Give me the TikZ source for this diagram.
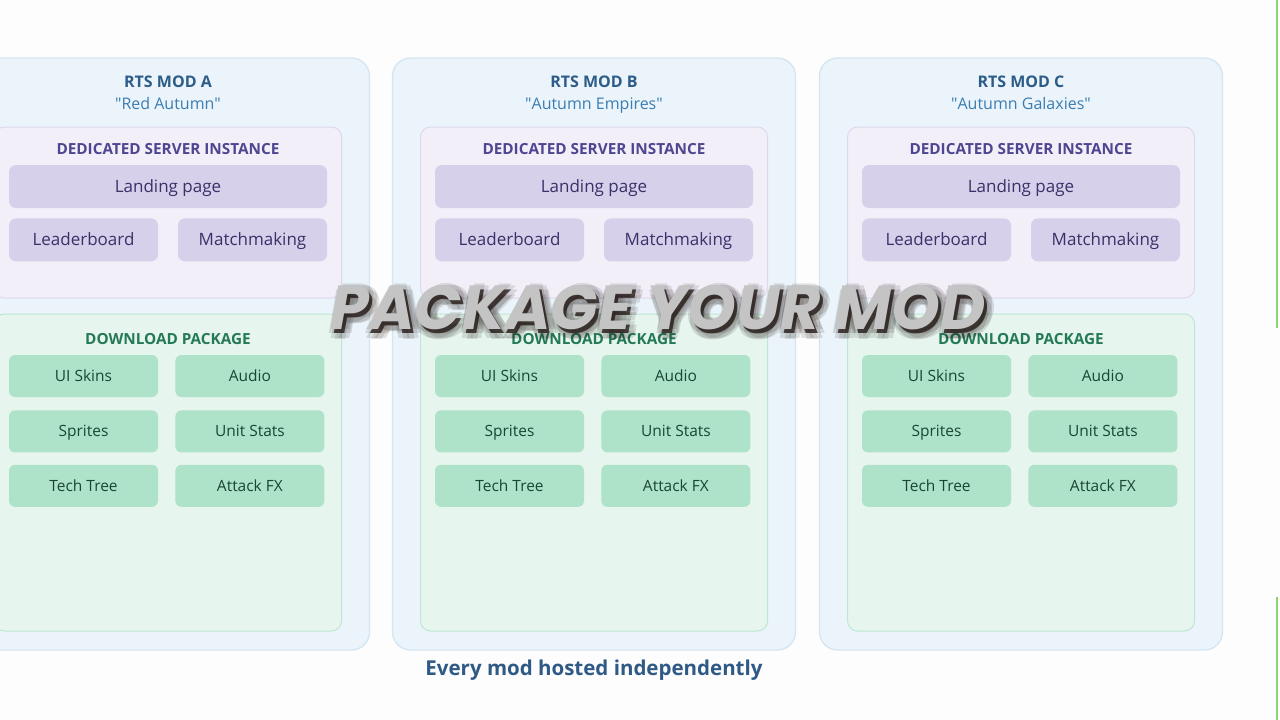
\documentclass[tikz,border=0pt]{standalone}
\usepackage{fontspec}
\setmainfont{Open Sans}
\newfontfamily\bannerfont{Poppins}
\usetikzlibrary{positioning}

\definecolor{pagebg}{HTML}{FDFDFD}
\definecolor{modfill}{HTML}{EAF4FA}
\definecolor{modline}{HTML}{D3E6F2}
\definecolor{modtitle}{HTML}{2D5C88}
\definecolor{modsub}{HTML}{3B7DB2}
\definecolor{srvfill}{HTML}{F2EFF9}
\definecolor{srvline}{HTML}{DDD8EE}
\definecolor{srvtext}{HTML}{4E4690}
\definecolor{srvbox}{HTML}{D6D0EA}
\definecolor{srvboxtext}{HTML}{3A3168}
\definecolor{dlfill}{HTML}{E6F5EE}
\definecolor{dlline}{HTML}{BFE6D3}
\definecolor{dltext}{HTML}{257A56}
\definecolor{dlbox}{HTML}{AEE2C9}
\definecolor{dlboxtext}{HTML}{1A4633}
\definecolor{captext}{HTML}{2F5A86}
\definecolor{bannergray}{HTML}{C4C4C4}
\definecolor{bannershade}{HTML}{1E1410}
\definecolor{edgegreen}{HTML}{8CD46C}

\begin{document}
\begin{tikzpicture}[x=1pt,y=-1pt,font=\fontsize{15}{18}\selectfont,inner sep=0pt]

	\tikzset{mod box/.style={draw=modline, fill=modfill, line width=1.3pt,
			rounded corners=18pt, minimum width=403pt, minimum height=592pt}}
	\tikzset{mod title/.style={text=modtitle, font=\fontsize{16}{19}\selectfont\bfseries}}
	\tikzset{mod sub/.style={text=modsub, font=\fontsize{16}{19}\selectfont}}
	\tikzset{srv panel/.style={draw=srvline, fill=srvfill, line width=1pt,
			rounded corners=10pt, minimum width=347pt, minimum height=171pt}}
	\tikzset{srv head/.style={text=srvtext, font=\fontsize{15.3}{18}\selectfont\bfseries}}
	\tikzset{srv item/.style={fill=srvbox, text=srvboxtext, rounded corners=7pt,
			minimum width=149pt, minimum height=43pt, text height=12pt, text depth=0pt,
			font=\fontsize{17}{20}\selectfont}}
	\tikzset{dl panel/.style={draw=dlline, fill=dlfill, line width=1pt,
			rounded corners=10pt, minimum width=347pt, minimum height=317pt}}
	\tikzset{dl head/.style={text=dltext, font=\fontsize{15.3}{18}\selectfont\bfseries}}
	\tikzset{dl item/.style={fill=dlbox, text=dlboxtext, rounded corners=6pt,
			minimum width=149pt, minimum height=42pt, text height=11pt, text depth=0pt,
			font=\fontsize{15.5}{18}\selectfont}}
	\tikzset{banner/.style={font=\fontsize{62}{70}\bannerfont\bfseries\itshape}}

	\useasboundingbox (0,0) rectangle (1280,720);
	\clip (0,0) rectangle (1280,720);
	\fill[pagebg] (0,0) rectangle (1280,720);

	% one column per mod
	\foreach \c/\x/\name in {A/168/Red Autumn, B/594/Autumn Empires, C/1021/Autumn Galaxies}{
		\node[mod box] (M\c) at (\x,354) {};
		\node[mod title] (T\c) at (\x,82) {RTS MOD \c};
		\node[mod sub, below=9pt of T\c] (S\c) {\textquotedbl\name\textquotedbl};

		\node[srv panel] (Srv\c) at (\x,212.5) {};
		\node[srv head] (H\c) at (\x,149) {DEDICATED SERVER INSTANCE};
		\node[srv item, minimum width=318pt] (Land\c) at (\x,186.5) {Landing page};
		\node[srv item, anchor=north west] (Lead\c) at ([yshift=-10pt]Land\c.south west) {Leaderboard};
		\node[srv item, anchor=north east] (Match\c) at ([yshift=-10pt]Land\c.south east) {Matchmaking};

		\node[dl panel] (Dl\c) at (\x,472.5) {};
		\node[dl head] (DH\c) at (\x,339) {DOWNLOAD PACKAGE};
		\node[dl item] (Ui\c) at (\x-84.5,376) {UI Skins};
		\node[dl item, right=17pt of Ui\c] (Au\c) {Audio};
		\node[dl item, below=13pt of Ui\c] (Sp\c) {Sprites};
		\node[dl item, below=13pt of Au\c] (Us\c) {Unit Stats};
		\node[dl item, below=12pt of Sp\c] (Tt\c) {Tech Tree};
		\node[dl item, below=12pt of Us\c] (Fx\c) {Attack FX};
	}

	\node[text=captext, font=\fontsize{20.5}{24}\selectfont\bfseries] (Cap) at (594,670) {Every mod hosted independently};

	% title banner with dark glow
	\foreach \a in {0,45,...,315}{
		\node[banner, text=bannershade, opacity=0.12] (G\a) at ([shift={(\a:6pt)}]662,312) {PACKAGE YOUR MOD};
	}
	\node[banner, text=bannershade, opacity=0.75] (Gs) at (661,312) {PACKAGE YOUR MOD};
	\node[banner, text=bannergray] (Banner) at (658,308) {PACKAGE YOUR MOD};

	\draw[edgegreen, line width=1.5pt] (1277,0) -- (1277,328);
	\draw[edgegreen, line width=1.5pt] (1277,597) -- (1277,720);
\end{tikzpicture}
\end{document}
